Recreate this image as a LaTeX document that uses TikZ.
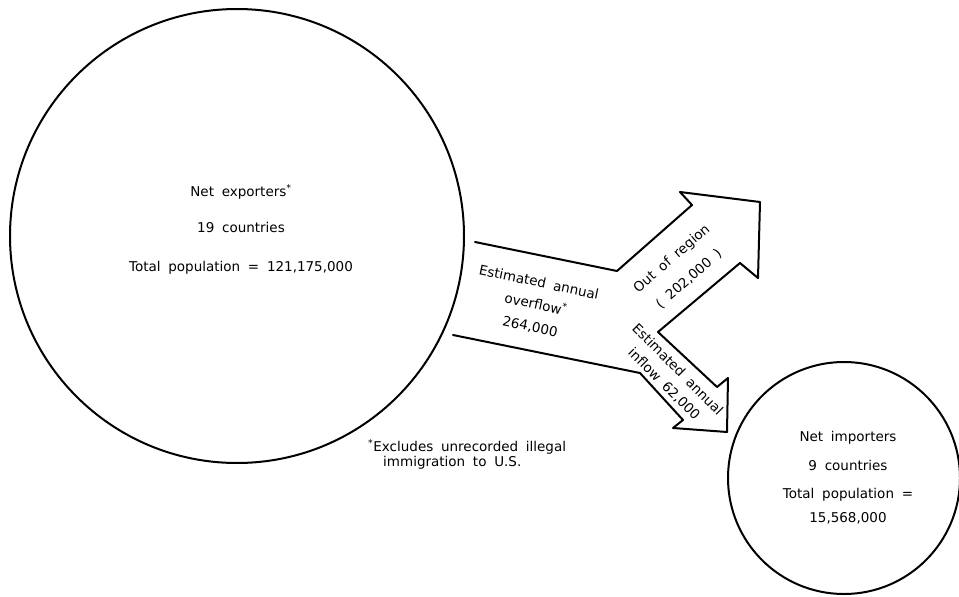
\documentclass[tikz,border=0pt]{standalone}
\usepackage{fontspec}
\setmainfont{DejaVu Sans}[WordSpace=1.8]
\begin{document}
\begin{tikzpicture}[x=1pt,y=-1pt,
  outline/.style={line width=2pt, line join=round, line cap=round},
  disc/.style={circle, draw, line width=2pt, inner sep=0pt},
  lbl/.style={font=\fontsize{13.5}{16}\selectfont, inner sep=0pt}]
\useasboundingbox (0,0) rectangle (959,597);
% circles
\node[disc, minimum size=454pt] (exp) at (237,236) {};
\node[disc, minimum size=232pt] (imp) at (844,478) {};
% arrow outline
\draw[outline] (475,242) -- (617,271) -- (692,205) -- (680,192) -- (760,202)
  -- (758,278) -- (740,263) -- (658,332) -- (717,387) -- (728,378)
  -- (727,432) -- (673,428) -- (683,420) -- (640,373) -- (453,335);
% exporters text
\node[lbl] (ne1) at (241,192) {Net exporters\textsuperscript{*}};
\node[lbl] (ne2) at (241,227) {19 countries};
\node[lbl] (ne3) at (241,268) {Total population = 121,175,000};
% importers text
\node[lbl] (ni1) at (848,438) {Net importers};
\node[lbl] (ni2) at (848,465) {9 countries};
\node[lbl] (ni3) at (848,495) {Total population =};
\node[lbl] (ni4) at (848,518) {15,568,000};
% trunk text
\node[lbl, rotate=-12] (t1) at (539,282) {Estimated annual};
\node[lbl, rotate=-12] (t2) at (536,303) {overflow\textsuperscript{*}};
\node[lbl, rotate=-12] (t3) at (530,327) {264,000};
% upper arrow text
\node[lbl, rotate=41] (u1) at (672,259) {Out of region};
\node[lbl, rotate=41] (u2) at (689,279) {( 202,000 )};
% lower arrow text
\node[lbl, rotate=-45] (l1) at (678,369) {Estimated annual};
\node[lbl, rotate=-45] (l2) at (664,384) {inflow 62,000};
% footnote
\node[lbl, anchor=west] (f1) at (368,447) {\textsuperscript{*}Excludes unrecorded illegal};
\node[lbl, anchor=west] (f2) at (383,463) {immigration to U.S.};
\end{tikzpicture}
\end{document}
